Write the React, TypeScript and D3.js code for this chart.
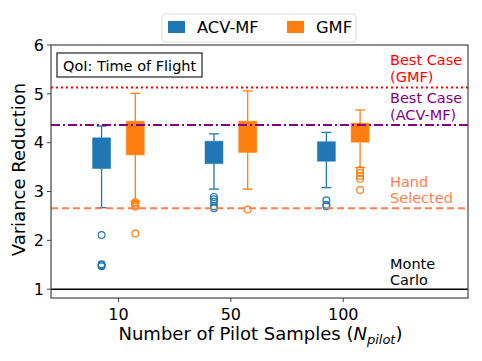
import React from "react";
import * as d3 from "d3";

// pilot sample groups
const groups = ["10", "50", "100"];
const methods = ["ACV-MF", "GMF"];
const colors = ["#1f77b4", "#ff7f0e"];

// [whiskerLow, q1, q3, whiskerHigh] per group
const acvStats = [
  [2.67, 3.47, 4.1, 4.34],
  [3.05, 3.57, 4.03, 4.18],
  [3.08, 3.62, 4.02, 4.21],
];
const gmfStats = [
  [2.8, 3.75, 4.44, 5.01],
  [3.05, 3.8, 4.44, 5.06],
  [3.49, 4.01, 4.4, 4.67],
];
const acvOutliers = [
  [2.11, 1.51, 1.49, 1.47],
  [2.89, 2.84, 2.79, 2.7, 2.66],
  [2.82, 2.73, 2.7],
];
const gmfOutliers = [
  [2.78, 2.75, 2.72, 2.69, 2.14],
  [2.63],
  [3.44, 3.38, 3.32, 3.26, 3.03],
];

const bestGmf = 5.13;
const bestAcv = 4.36;
const handSelected = 2.66;
const monteCarlo = 1.0;
const yTicks = [1, 2, 3, 4, 5, 6];

const W = 482;
const H = 361;
const margin = { left: 51, right: 14, top: 45, bottom: 63 };
const font = "DejaVu Sans, sans-serif";

export default function App() {
  const x = d3.scaleLinear().domain([0.4, 4.11]).range([margin.left, W - margin.right]);
  const y = d3.scaleLinear().domain([0.82, 6]).range([H - margin.bottom, margin.top]);
  const boxW = 18;
  const off = 0.15;
  const allStats = [acvStats, gmfStats];
  const allOut = [acvOutliers, gmfOutliers];

  const refLines = [
    { v: bestGmf, color: "#ff0000", dash: "2,3", labels: ["Best Case", "(GMF)"], dy: [-22, -5] },
    { v: bestAcv, color: "#800080", dash: "9,3,2,3", labels: ["Best Case", "(ACV-MF)"], dy: [-22, -5] },
    { v: handSelected, color: "#ff7f50", dash: "7,4", labels: ["Hand", "Selected"], dy: [-21, -5] },
    { v: monteCarlo, color: "#000000", dash: null, labels: ["Monte", "Carlo"], dy: [-20.5, -4] },
  ];

  return (
    <svg width={W} height={H} style={{ display: "block", position: "absolute", left: 0, top: 0 }} fontFamily={font}>
      <rect width={W} height={H} fill="#fff" />
      {/* boxes */}
      {groups.map((g, i) =>
        methods.map((m, j) => {
          const s = allStats[j][i];
          const cx = x(i + 1 + (j === 0 ? -off : off));
          const c = colors[j];
          return (
            <g key={g + m}>
              <line x1={cx} x2={cx} y1={y(s[0])} y2={y(s[1])} stroke={c} strokeWidth={1.3} />
              <line x1={cx} x2={cx} y1={y(s[2])} y2={y(s[3])} stroke={c} strokeWidth={1.3} />
              <line x1={cx - 5} x2={cx + 5} y1={y(s[0])} y2={y(s[0])} stroke={c} strokeWidth={1.3} />
              <line x1={cx - 5} x2={cx + 5} y1={y(s[3])} y2={y(s[3])} stroke={c} strokeWidth={1.3} />
              <rect x={cx - boxW / 2} width={boxW} y={y(s[2])} height={y(s[1]) - y(s[2])} fill={c} stroke={c} strokeOpacity={0.5} strokeWidth={1} />
              {allOut[j][i].map((o, k) => (
                <circle key={k} cx={cx} cy={y(o)} r={3.4} fill="none" stroke={c} strokeWidth={1.2} />
              ))}
            </g>
          );
        })
      )}
      {/* reference lines */}
      {refLines.map((r) => (
        <g key={r.labels.join("")}>
          <line x1={margin.left} x2={W - margin.right} y1={y(r.v)} y2={y(r.v)} stroke={r.color} strokeWidth={r.dash ? 2 : 1.5} strokeDasharray={r.dash || undefined} />
          {r.labels.map((t, k) => (
            <text key={k} x={390} y={y(r.v) + r.dy[k]} fontSize={14.5} fill={r.color}>{t}</text>
          ))}
        </g>
      ))}
      {/* frame */}
      <rect x={margin.left} y={margin.top} width={W - margin.right - margin.left} height={H - margin.bottom - margin.top} fill="none" stroke="#444" strokeWidth={1.2} />
      {/* y axis */}
      {yTicks.map((t) => (
        <g key={t}>
          <line x1={margin.left - 4} x2={margin.left} y1={y(t)} y2={y(t)} stroke="#444" />
          <text x={margin.left - 7} y={y(t)} dy="0.36em" textAnchor="end" fontSize={16}>{t}</text>
        </g>
      ))}
      <text transform={`translate(25,${(margin.top + H - margin.bottom) / 2 - 2}) rotate(-90)`} textAnchor="middle" fontSize={18}>Variance Reduction</text>
      {/* x axis */}
      {groups.map((g, i) => (
        <g key={g}>
          <line x1={x(i + 1)} x2={x(i + 1)} y1={H - margin.bottom} y2={H - margin.bottom + 4} stroke="#444" />
          <text x={x(i + 1)} y={H - margin.bottom + 22} textAnchor="middle" fontSize={16}>{g}</text>
        </g>
      ))}
      <text x={(margin.left + W - margin.right) / 2 + 1} y={H - margin.bottom + 42} textAnchor="middle" fontSize={18}>
        Number of Pilot Samples (<tspan fontStyle="italic">N</tspan><tspan fontStyle="italic" fontSize={13} dy={4}>pilot</tspan><tspan dy={-4}>)</tspan>
      </text>
      {/* title box */}
      <rect x={57} y={53} width={145} height={24} fill="#fff" stroke="#333" strokeWidth={1.3} />
      <text x={63} y={71} fontSize={14.5}>QoI: Time of Flight</text>
      {/* legend */}
      <rect x={162} y={14} width={194} height={28} rx={3} fill="#fff" stroke="#ddd" strokeWidth={1} />
      {methods.map((m, j) => (
        <g key={m} transform={`translate(${j === 0 ? 168 : 287},0)`}>
          <rect x={0} y={21} width={17} height={12} fill={colors[j]} />
          <text x={29} y={33} fontSize={16.3}>{m}</text>
        </g>
      ))}
    </svg>
  );
}
